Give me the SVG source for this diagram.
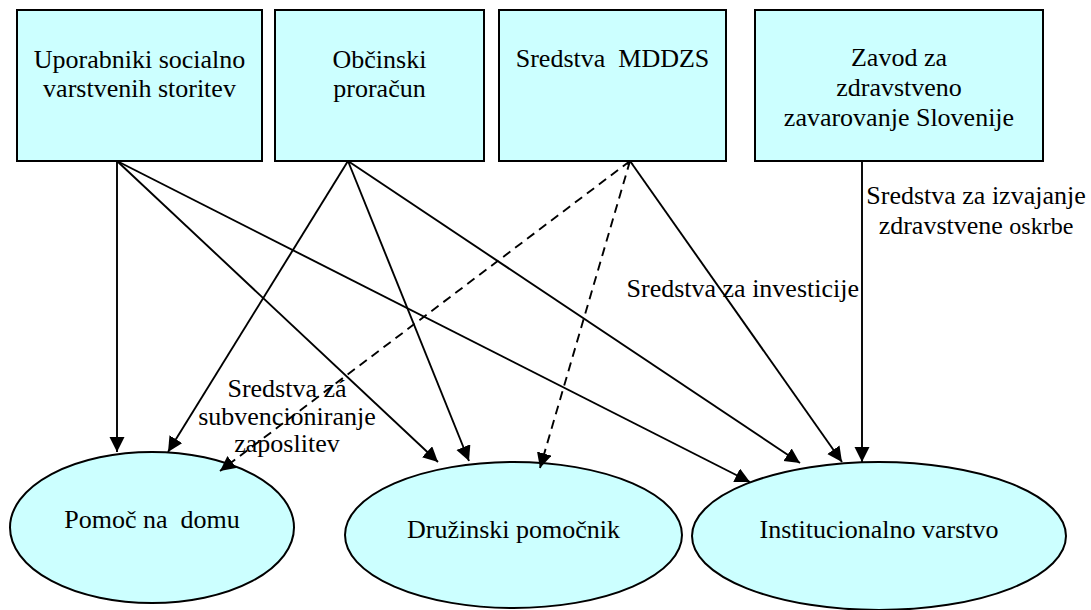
<svg xmlns="http://www.w3.org/2000/svg" width="1091" height="610" viewBox="0 0 1091 610">
<style>
.box{fill:#CCFFFF;stroke:#000;stroke-width:2}
.ell{fill:#CCFFFF;stroke:#000;stroke-width:2}
.t{font-family:"Liberation Serif","Times New Roman",serif;font-size:26px;fill:#000;text-anchor:middle}
.lbl{font-family:"Liberation Serif","Times New Roman",serif;font-size:26px;fill:#000}
.e{fill:none;stroke:#000;stroke-width:1.9;marker-end:url(#ah)}
.d{stroke-dasharray:9 6}
</style>
<defs>
<marker id="ah" markerUnits="userSpaceOnUse" markerWidth="16" markerHeight="16" refX="15" refY="7.5" orient="auto" viewBox="0 0 16 16">
<path d="M0,0 L15,7.5 L0,15 z" fill="#000"/>
</marker>
</defs>
<g id="n-uporabniki">
<rect class="box" x="17" y="10" width="245" height="151"/>
<text class="t" x="139.5" y="68">Uporabniki socialno</text>
<text class="t" x="139.5" y="97">varstvenih storitev</text>
</g>
<g id="n-obcinski">
<rect class="box" x="275" y="10" width="209" height="151"/>
<text class="t" x="379.5" y="68">Občinski</text>
<text class="t" x="379.5" y="97">proračun</text>
</g>
<g id="n-mddzs">
<rect class="box" x="499" y="10" width="227" height="151"/>
<text class="t" x="612.5" y="67" xml:space="preserve">Sredstva  MDDZS</text>
</g>
<g id="n-zzzs">
<rect class="box" x="755" y="10" width="288" height="151"/>
<text class="t" x="899" y="66">Zavod za</text>
<text class="t" x="899" y="96">zdravstveno</text>
<text class="t" x="899" y="126">zavarovanje Slovenije</text>
</g>
<g id="n-pomoc">
<ellipse class="ell" cx="152" cy="527.5" rx="142" ry="75.5"/>
<text class="t" x="152" y="528" xml:space="preserve">Pomoč na  domu</text>
</g>
<g id="n-druzinski">
<ellipse class="ell" cx="513.5" cy="535" rx="168.5" ry="73"/>
<text class="t" x="513.5" y="538">Družinski pomočnik</text>
</g>
<g id="n-institucionalno">
<ellipse class="ell" cx="879" cy="536" rx="187" ry="74"/>
<text class="t" x="879" y="538">Institucionalno varstvo</text>
</g>
<g id="connectors">
<line class="e" x1="117" y1="161" x2="117" y2="452"/>
<line class="e" x1="117" y1="161" x2="438" y2="462"/>
<line class="e" x1="117" y1="161" x2="750" y2="482"/>
<line class="e" x1="348" y1="161" x2="168" y2="452"/>
<line class="e" x1="348" y1="161" x2="469" y2="461"/>
<line class="e" x1="348" y1="161" x2="800" y2="463"/>
<line class="e d" x1="630" y1="161" x2="220" y2="471"/>
<line class="e d" x1="630" y1="161" x2="540" y2="468"/>
<line class="e" x1="630" y1="161" x2="842" y2="462"/>
<path d="M627,164.5 L630,161.5 L633,164.5" fill="none" stroke="#000" stroke-width="1.2"/>
<line class="e" x1="862" y1="161" x2="862" y2="462"/>
</g>
<g id="labels">
<text class="lbl" x="859" y="297" text-anchor="end">Sredstva za investicije</text>
<text class="lbl" x="976" y="204" text-anchor="middle">Sredstva za izvajanje</text>
<text class="lbl" x="976" y="234" text-anchor="middle">zdravstvene <tspan font-size="24">oskrbe</tspan></text>
<text class="lbl" x="287" y="397" text-anchor="middle" font-size="24">Sredstva zá</text>
<text class="lbl" x="287" y="425" text-anchor="middle" font-size="24">subvencioniranje</text>
<text class="lbl" x="287" y="452" text-anchor="middle" font-size="24">zaposlitev</text>
</g>
</svg>
